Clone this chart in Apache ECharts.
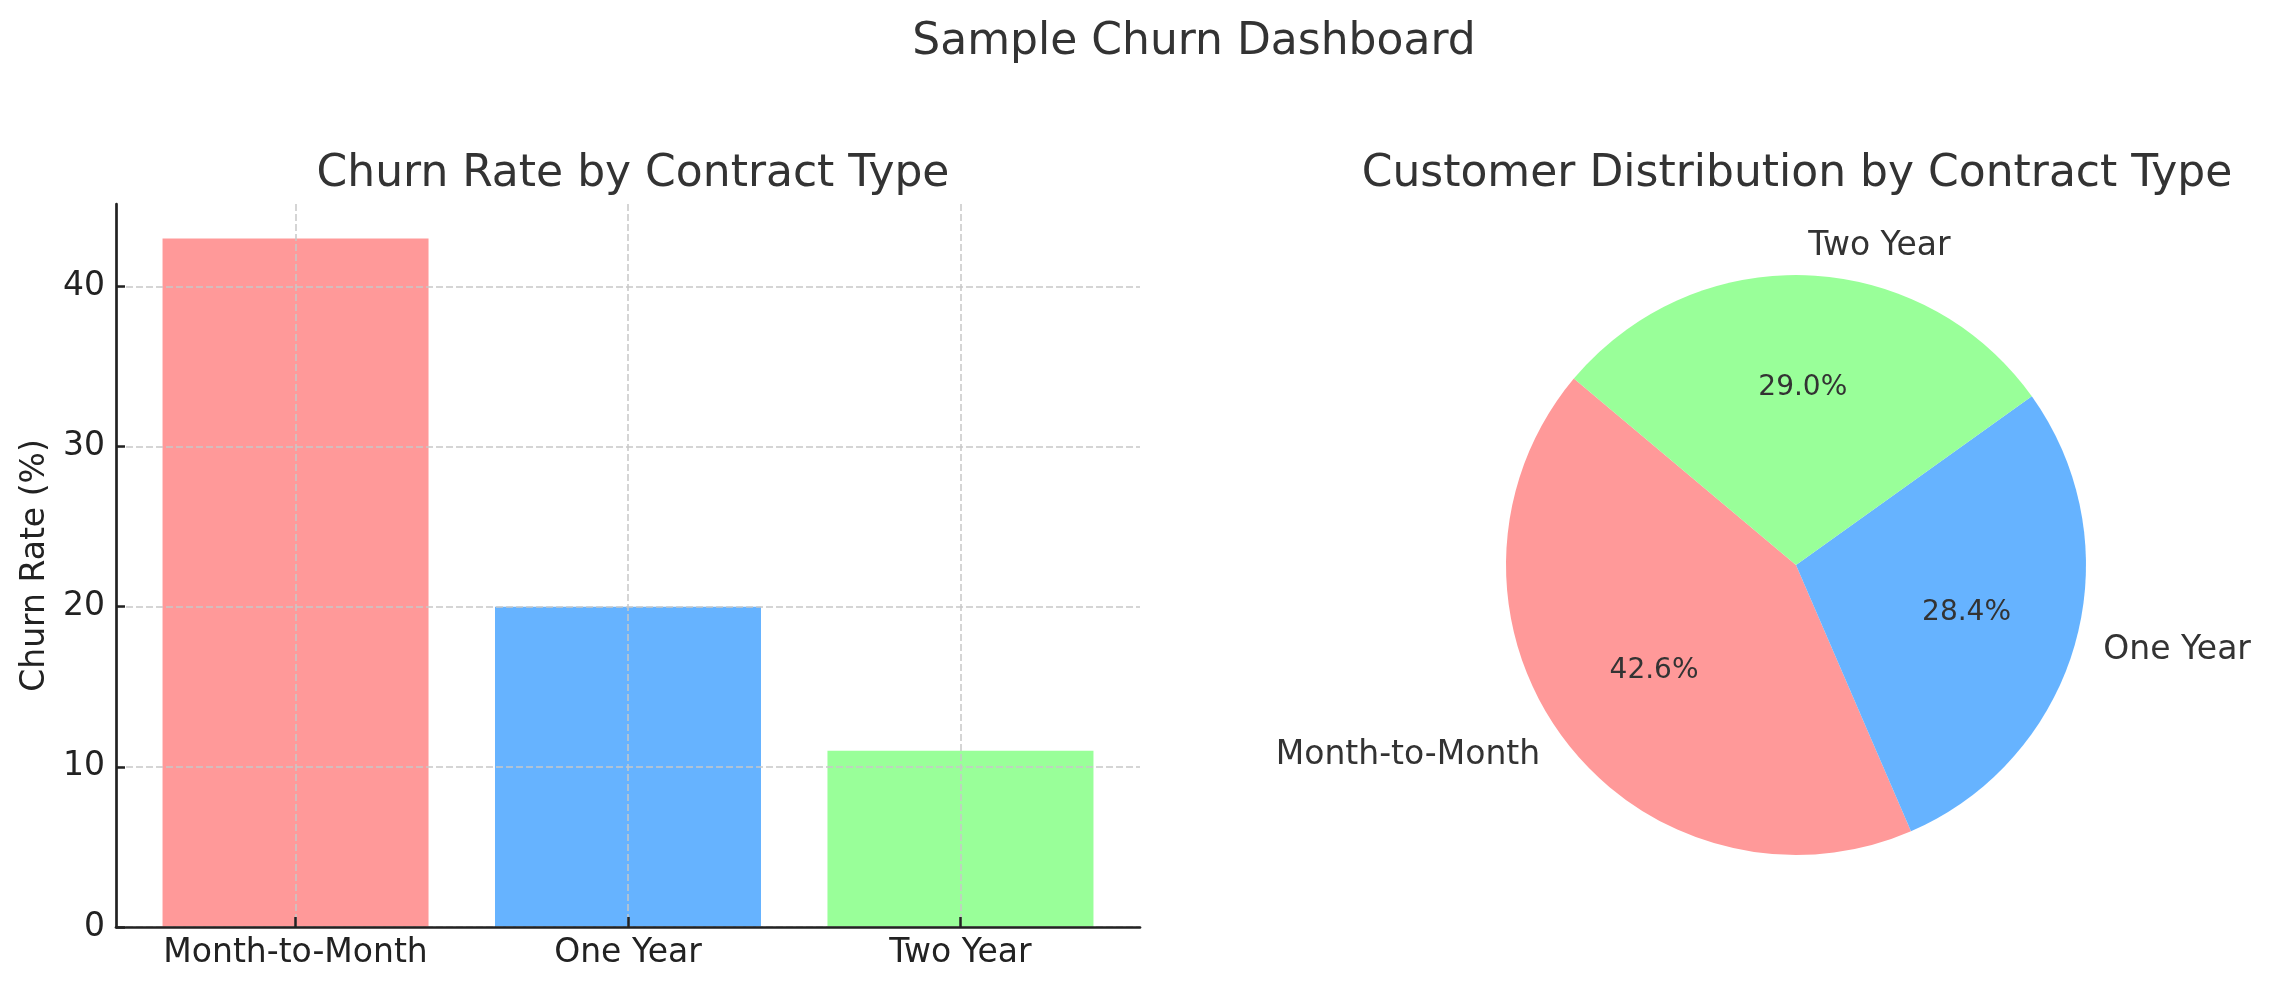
<!DOCTYPE html>
<html>
<head>
<meta charset="utf-8">
<script src="https://cdn.jsdelivr.net/npm/echarts@6/dist/echarts.min.js"></script>
<style>
  html, body { margin: 0; padding: 0; background: #fff; }
  #main { width: 2271px; height: 990px; }
</style>
</head>
<body>
<div id="main"></div>
<script>
// data
var categories = ['Month-to-Month', 'One Year', 'Two Year'];
var churnRates = [43, 20, 11];
var yTicks = [0, 10, 20, 30, 40];
var pieLabels = ['Month-to-Month', 'One Year', 'Two Year'];
var pieShares = [42.6, 28.4, 29.0];
var colors = ['#ff9999', '#66b3ff', '#99ff99'];

var FONT = 'DejaVu Sans';
var chart = echarts.init(document.getElementById('main'));

// bars sit on a value axis so the margins match matplotlib's
var barData = churnRates.map(function (v, i) {
    return { value: [i, v], itemStyle: { color: colors[i] } };
});
var pieData = pieShares.map(function (v, i) {
    return { name: pieLabels[i], value: v, itemStyle: { color: colors[i] } };
});

var gridLine = { show: true, lineStyle: { color: '#c8c8c8', width: 1.5, type: [7, 3] } };

var option = {
    backgroundColor: '#fff',
    animation: false,
    textStyle: { fontFamily: FONT },
    title: [
        { text: 'Sample Churn Dashboard', left: 1189, top: 16, textAlign: 'center',
          textStyle: { fontFamily: FONT, fontSize: 44, fontWeight: 'normal', color: '#333' } },
        { text: 'Churn Rate by Contract Type', left: 628, top: 148, textAlign: 'center',
          textStyle: { fontFamily: FONT, fontSize: 44, fontWeight: 'normal', color: '#333' } },
        { text: 'Customer Distribution by Contract Type', left: 1792, top: 148, textAlign: 'center',
          textStyle: { fontFamily: FONT, fontSize: 44, fontWeight: 'normal', color: '#333' } }
    ],
    grid: { left: 116, right: 1131, top: 204, bottom: 63 },
    xAxis: {
        type: 'value', min: -0.54, max: 2.54, z: 3,
        axisLine: { show: true, onZero: false, lineStyle: { color: '#222', width: 2.7 } },
        axisTick: { show: true, inside: true, length: 10, customValues: [0, 1, 2], lineStyle: { color: '#222', width: 2.5 } },
        axisLabel: {
            customValues: [0, 1, 2], margin: 10, fontSize: 33, color: '#222', fontFamily: FONT,
            formatter: function (v) { return categories[Math.round(v)]; }
        },
        splitLine: gridLine
    },
    yAxis: {
        type: 'value', min: 0, max: 45.15, z: 3,
        name: 'Churn Rate (%)', nameLocation: 'middle', nameGap: 64,
        nameTextStyle: { fontSize: 33, color: '#222', fontFamily: FONT },
        axisLine: { show: true, onZero: false, lineStyle: { color: '#222', width: 2.7 } },
        axisTick: { show: true, inside: true, length: 9, customValues: yTicks, lineStyle: { color: '#222', width: 2.5 } },
        axisLabel: { customValues: yTicks, margin: 11, fontSize: 33, color: '#222', fontFamily: FONT },
        splitLine: gridLine
    },
    series: [
        {
            type: 'bar', data: barData, barWidth: 266, silent: true
        },
        {
            type: 'pie', center: [1796, 565], radius: [0, 290],
            startAngle: 140, clockwise: false, avoidLabelOverlap: false, silent: true,
            data: pieData,
            label: {
                show: true, position: 'outside', distanceToLabelLine: 0,
                fontSize: 33, color: '#333', fontFamily: FONT
            },
            labelLine: { show: false, length: 29, length2: 0 },
            emphasis: { disabled: true }
        },
        {
            // second ring only to place the percentages at 0.6 r
            type: 'pie', center: [1796, 565], radius: [58, 290],
            startAngle: 140, clockwise: false, avoidLabelOverlap: false, silent: true,
            data: pieShares.map(function (v, i) { return { name: pieLabels[i], value: v }; }),
            itemStyle: { color: 'rgba(0,0,0,0)' },
            label: {
                show: true, position: 'inside', fontSize: 28, color: '#333', fontFamily: FONT,
                formatter: function (p) { return p.percent.toFixed(1) + '%'; }
            },
            labelLine: { show: false },
            emphasis: { disabled: true }
        }
    ]
};

chart.setOption(option);
</script>
</body>
</html>
